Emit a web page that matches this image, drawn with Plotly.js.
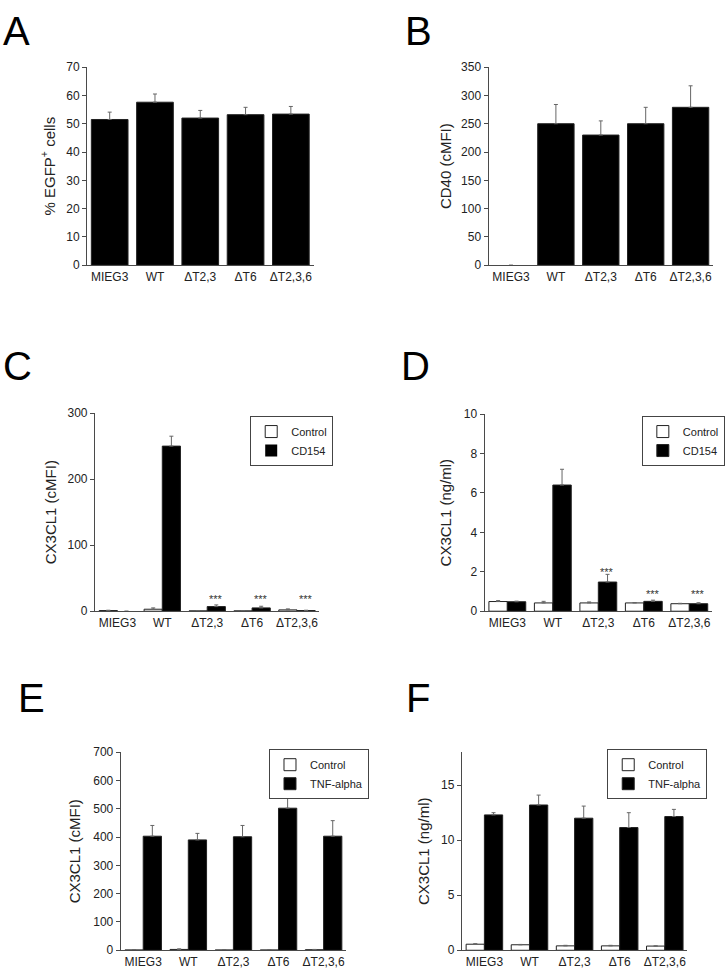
<!DOCTYPE html>
<html>
<head>
<meta charset="utf-8">
<script src="https://cdn.plot.ly/plotly-3.0.1.min.js"></script>
<style>html,body{margin:0;padding:0;background:#fff;}#chart{width:725px;height:976px;}</style>
</head>
<body>
<div id="chart"></div>
<script>
// ---- data ----
const categories = ["MIEG3", "WT", "\u0394T2,3", "\u0394T6", "\u0394T2,3,6"];

// Panel A: % EGFP+ cells
const egfpValues = [51.5, 57.6, 52.0, 53.2, 53.4];
const egfpSem    = [2.6, 2.9, 2.7, 2.6, 2.7];

// Panel B: CD40 (cMFI)
const cd40Values = [0, 250, 230, 250, 279];
const cd40Sem    = [0, 34, 25, 29, 38];

// Panel C: CX3CL1 (cMFI), Control vs CD154
const cMfiControl    = [1, 3, 0.5, 0.5, 2];
const cMfiControlSem = [0.5, 2, 0.3, 0.3, 1.5];
const cMfiCD154      = [0, 250, 7, 5, 1];
const cMfiCD154Sem   = [0, 15, 2.5, 2.5, 0.5];

// Panel D: CX3CL1 (ng/ml), Control vs CD154
const dNgControl    = [0.49, 0.42, 0.42, 0.42, 0.38];
const dNgControlSem = [0.05, 0.08, 0.05, 0.02, 0.02];
const dNgCD154      = [0.48, 6.4, 1.48, 0.5, 0.38];
const dNgCD154Sem   = [0.03, 0.8, 0.39, 0.06, 0.05];

// Panel E: CX3CL1 (cMFI), Control vs TNF-alpha
const eMfiControl    = [1, 3, 1, 1, 2];
const eMfiControlSem = [1, 2, 1, 1, 1];
const eMfiTNF        = [403, 390, 401, 502, 403];
const eMfiTNFSem     = [38, 23, 40, 50, 55];

// Panel F: CX3CL1 (ng/ml), Control vs TNF-alpha
const fNgControl    = [0.55, 0.5, 0.4, 0.4, 0.38];
const fNgControlSem = [0.05, 0.03, 0.05, 0.05, 0.02];
const fNgTNF        = [12.3, 13.2, 12.0, 11.15, 12.15];
const fNgTNFSem     = [0.2, 0.9, 1.1, 1.35, 0.65];

// significance marks (category, value where drawn)
const starsC = [{cat: "\u0394T2,3", y: 19}, {cat: "\u0394T6", y: 19}, {cat: "\u0394T2,3,6", y: 19}];
const starsD = [{cat: "\u0394T2,3", y: 2.0}, {cat: "\u0394T6", y: 0.85}, {cat: "\u0394T2,3,6", y: 0.85}];

const panelLetters = ["A", "B", "C", "D", "E", "F"];

// ---- styling helpers ----
const FONT = "Liberation Sans, Arial, Helvetica, sans-serif";
const W = 725, H = 976;
const axisColor = "#4a4a4a";
const errStyle = (sem) => ({type: "data", symmetric: false, array: sem, arrayminus: sem.map(() => 0),
  color: "#666", thickness: 1, width: 2});

function barTrace(vals, sem, xa, ya, fill, name, legend, showlegend) {
  return {
    type: "bar", x: categories, y: vals, xaxis: xa, yaxis: ya, name: name,
    marker: {color: fill, line: {color: "#222", width: vals.map(v => v === 0 ? 0 : 1)}},
    error_y: errStyle(sem), legend: legend, showlegend: showlegend,
    hoverinfo: "x+y"
  };
}

const traces = [
  barTrace(egfpValues, egfpSem, "x", "y", "#000", "EGFP", "legend", false),
  barTrace(cd40Values, cd40Sem, "x2", "y2", "#000", "CD40", "legend", false),
  barTrace(cMfiControl, cMfiControlSem, "x3", "y3", "#fff", "Control", "legend", true),
  barTrace(cMfiCD154, cMfiCD154Sem, "x3", "y3", "#000", "CD154", "legend", true),
  barTrace(dNgControl, dNgControlSem, "x4", "y4", "#fff", "Control", "legend2", true),
  barTrace(dNgCD154, dNgCD154Sem, "x4", "y4", "#000", "CD154", "legend2", true),
  barTrace(eMfiControl, eMfiControlSem, "x5", "y5", "#fff", "Control", "legend3", true),
  barTrace(eMfiTNF, eMfiTNFSem, "x5", "y5", "#000", "TNF-alpha", "legend3", true),
  barTrace(fNgControl, fNgControlSem, "x6", "y6", "#fff", "Control", "legend4", true),
  barTrace(fNgTNF, fNgTNFSem, "x6", "y6", "#000", "TNF-alpha", "legend4", true)
];

// pixel boxes of each plot area (left, right, top, bottom)
const boxes = [
  [88, 317, 61, 262],
  [494, 721, 61, 262],
  [96, 323, 412, 613],
  [490, 720, 413, 613],
  [122, 350, 756, 957],
  [467, 695, 756, 957]
];
const yRanges = [[0, 70], [0, 350], [0, 300], [0, 10], [0, 700], [0, 18]];
const yDticks = [10, 50, 100, 2, 100, 5];
const yTitles = ["% EGFP<sup>+</sup> cells", "CD40 (cMFI)", "CX3CL1 (cMFI)", "CX3CL1 (ng/ml)", "CX3CL1 (cMFI)", "CX3CL1 (ng/ml)"];
const yStandoffs = [7, 5, 7, 8, 8, 7];

const layout = {
  width: W, height: H,
  margin: {l: 0, r: 0, t: 0, b: 0},
  paper_bgcolor: "#fff", plot_bgcolor: "#fff",
  font: {family: FONT, color: "#222", size: 12},
  barmode: "group", bargap: 0.19, bargroupgap: 0,
  annotations: [],
  shapes: []
};

boxes.forEach((b, i) => {
  const n = i === 0 ? "" : String(i + 1);
  layout["xaxis" + n] = {
    domain: [b[0] / W, b[1] / W], anchor: "y" + n,
    showline: true, linecolor: axisColor, linewidth: 1,
    ticks: "", showgrid: false, zeroline: false,
    tickfont: {size: 12, color: "#222", family: FONT},
    fixedrange: true, type: "category"
  };
  layout["yaxis" + n] = {
    domain: [1 - b[3] / H, 1 - b[2] / H], anchor: "x" + n,
    range: yRanges[i], dtick: yDticks[i], tick0: 0,
    showline: true, linecolor: axisColor, linewidth: 1,
    ticks: "outside", ticklen: 4, tickcolor: axisColor, tickwidth: 1,
    showgrid: false, zeroline: false,
    tickfont: {size: 12, color: "#222", family: FONT},
    title: {text: yTitles[i], font: {size: 15, color: "#222", family: FONT}, standoff: yStandoffs[i]},
    automargin: true, fixedrange: true
  };
});

// legends for C-F
const legendBoxes = {legend: [253, 415], legend2: [649, 415], legend3: [272, 753], legend4: [614, 753]};
Object.keys(legendBoxes).forEach(k => {
  const p = legendBoxes[k];
  layout[k] = {
    x: p[0] / W, y: 1 - p[1] / H, xanchor: "left", yanchor: "top",
    bgcolor: "#fff", bordercolor: "#444", borderwidth: 1,
    font: {size: 11, color: "#222", family: FONT},
    itemwidth: 30, tracegroupgap: 0, traceorder: "normal",
    itemclick: false, itemdoubleclick: false
  };
});

// significance stars
starsC.forEach(s => layout.annotations.push({
  xref: "x3", yref: "y3", x: s.cat, y: s.y, text: "***", showarrow: false,
  xshift: 9, yanchor: "middle", font: {size: 11, color: "#333", family: FONT}
}));
starsD.forEach(s => layout.annotations.push({
  xref: "x4", yref: "y4", x: s.cat, y: s.y, text: "***", showarrow: false,
  xshift: 9, yanchor: "middle", font: {size: 11, color: "#333", family: FONT}
}));

// panel letters (top of text box, in pixels)
const letterPos = [[1, 0], [408, 0], [1, 340], [403, 340], [16, 677], [409, 677]];
panelLetters.forEach((L, i) => layout.annotations.push({
  xref: "paper", yref: "paper", x: letterPos[i][0] / W, y: 1 - letterPos[i][1] / H,
  xanchor: "left", yanchor: "top", text: L, showarrow: false,
  font: {size: 40, color: "#000", family: FONT}
}));

Plotly.newPlot("chart", traces, layout, {displayModeBar: false, staticPlot: true});
</script>
</body>
</html>
